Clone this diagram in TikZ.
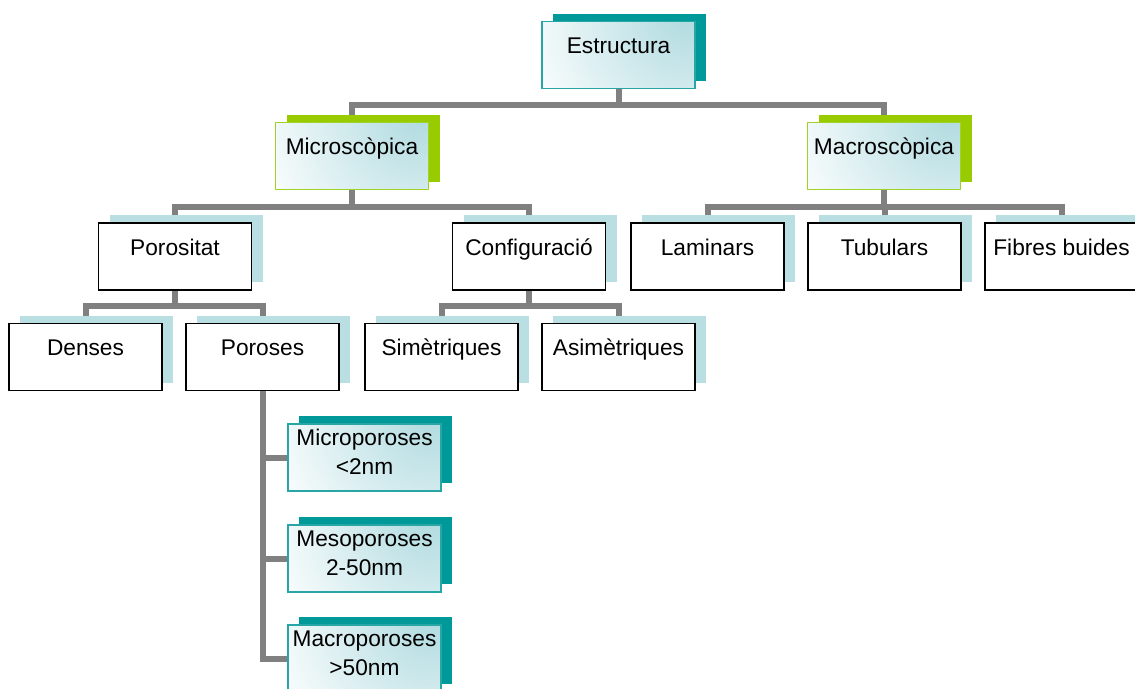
\documentclass[tikz,border=0pt]{standalone}
\usepackage{fontspec}
\setmainfont{Liberation Sans}
\usetikzlibrary{shadows,backgrounds}

\definecolor{tealsh}{RGB}{0,153,153}
\definecolor{tealrim}{RGB}{40,165,165}
\definecolor{greensh}{RGB}{153,204,0}
\definecolor{greenrim}{RGB}{160,210,40}
\definecolor{palesh}{RGB}{185,223,226}
\definecolor{paleglow}{RGB}{176,219,224}
\definecolor{linkgray}{RGB}{128,128,128}

\tikzset{
  basebox/.style={rectangle, minimum width=153pt, minimum height=67pt,
    inner sep=0pt, outer sep=0pt, align=center,
    font=\fontsize{22.7}{29}\selectfont, text height=32pt, text depth=35pt},
  plainbox/.style={basebox, draw=black, line width=1.6pt, fill=white,
    general shadow={fill=palesh, shadow xshift=11pt, shadow yshift=8pt}},
  % white box with a pale cyan glow spreading from the upper right corner
  glowfill/.style={fill=white, path picture={
      \shade[inner color=paleglow, outer color=white]
        ([shift={(-10pt,6pt)}]path picture bounding box.north east) circle (175pt);}},
  tealbox/.style={basebox, draw=tealrim, line width=1.5pt, glowfill,
    general shadow={fill=tealsh, shadow xshift=11pt, shadow yshift=8pt}},
  greenbox/.style={basebox, draw=greenrim, line width=1.8pt, glowfill,
    general shadow={fill=greensh, shadow xshift=11pt, shadow yshift=8pt}},
  twoline/.style={text height=21pt, text depth=46pt},
  link/.style={draw=linkgray, line width=6pt}
}

\newcommand{\twolines}[2]{\begin{tabular}[t]{@{}c@{}}#1\\#2\end{tabular}}

\begin{document}
\begin{tikzpicture}[x=1pt, y=-1pt]
  \useasboundingbox (0,0) rectangle (1135,688);

  % top level
  \node[tealbox] (est) at (618.5,55) {Estructura};

  % second level
  \node[greenbox] (mic) at (352,156) {Microscòpica};
  \node[greenbox] (mac) at (884,156) {Macroscòpica};

  % third level
  \node[plainbox] (poro) at (175,256.5) {Porositat};
  \node[plainbox] (conf) at (529,256.5) {Configuració};
  \node[plainbox] (lam)  at (707.5,256.5) {Laminars};
  \node[plainbox] (tub)  at (884.5,256.5) {Tubulars};
  \node[plainbox] (fib)  at (1061.5,256.5) {Fibres buides};

  % fourth level
  \node[plainbox] (den)  at (85.5,357) {Denses};
  \node[plainbox] (pors) at (262.5,357) {Poroses};
  \node[plainbox] (sim)  at (441.5,357) {Simètriques};
  \node[plainbox] (asim) at (618.5,357) {Asimètriques};

  % pore sizes
  \node[tealbox, twoline] (micp) at (364.5,457.5) {\twolines{Microporoses}{<2nm}};
  \node[tealbox, twoline] (mesp) at (364.5,558.5) {\twolines{Mesoporoses}{2-50nm}};
  \node[tealbox, twoline] (macp) at (364.5,658.5) {\twolines{Macroporoses}{>50nm}};

  % junction points on the horizontal bars
  \coordinate (j1) at (618.5,105);
  \coordinate (j2) at (352,207);
  \coordinate (j3) at (884,207);
  \coordinate (j4) at (175,306);
  \coordinate (j5) at (529,306);

  \begin{scope}[on background layer]
    \draw[link] (est.south) -- (j1);
    \draw[link] (mic.north) |- (j1) -| (mac.north);

    \draw[link] (mic.south) -- (j2);
    \draw[link] (poro.north) |- (j2) -| (conf.north);

    \draw[link] (mac.south) -- (j3);
    \draw[link] (lam.north) |- (j3) -| (fib.north);
    \draw[link] (tub.north) -- (tub.north |- j3);

    \draw[link] (poro.south) -- (j4);
    \draw[link] (den.north) |- (j4) -| (pors.north);

    \draw[link] (conf.south) -- (j5);
    \draw[link] (sim.north) |- (j5) -| (asim.north);

    \draw[link] (pors.south) |- (macp.west);
    \draw[link] (pors.south |- micp.west) -- (micp.west);
    \draw[link] (pors.south |- mesp.west) -- (mesp.west);
  \end{scope}
\end{tikzpicture}
\end{document}
